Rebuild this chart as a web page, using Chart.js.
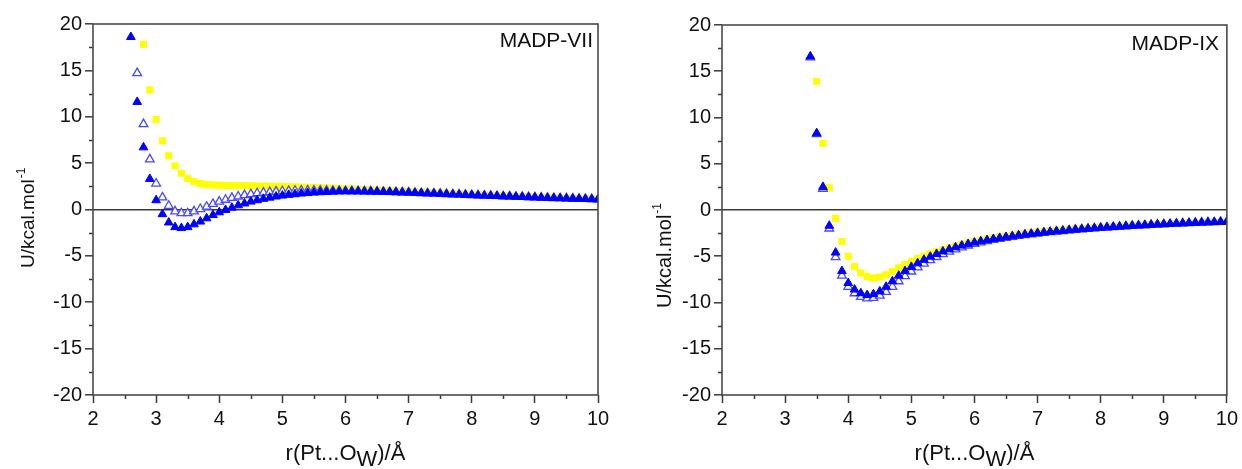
<!DOCTYPE html>
<html><head><meta charset="utf-8">
<script src="https://cdn.jsdelivr.net/npm/chart.js@4.4.1/dist/chart.umd.min.js"></script>
<style>
html,body{margin:0;padding:0;background:#fff;}
#wrap{position:relative;width:1242px;height:469px;overflow:hidden;background:#fff;}
.pane{position:absolute;top:0;width:621px;height:469px;}
</style></head><body>
<div id="wrap">
<div class="pane" style="left:0"><canvas id="c1" width="621" height="469"></canvas></div>
<div class="pane" style="left:621px"><canvas id="c2" width="621" height="469"></canvas></div>
</div>
<script>
// ---------- DATA ----------
const panelLabels = ["MADP-VII", "MADP-IX"];
const xTicks = [2, 3, 4, 5, 6, 7, 8, 9, 10];
const yTicks = [-20, -15, -10, -5, 0, 5, 10, 15, 20];

// MADP-VII : r (Å)
const rVII = [2.6,2.7,2.8,2.9,3.0,3.1,3.2,3.3,3.4,3.5,
  3.6,3.7,3.8,3.9,4.0,4.1,4.2,4.3,4.4,4.5,
  4.6,4.7,4.8,4.9,5.0,5.1,5.2,5.3,5.4,5.5,
  5.6,5.7,5.8,5.9,6.0,6.1,6.2,6.3,6.4,6.5,
  6.6,6.7,6.8,6.9,7.0,7.1,7.2,7.3,7.4,7.5,
  7.6,7.7,7.8,7.9,8.0,8.1,8.2,8.3,8.4,8.5,
  8.6,8.7,8.8,8.9,9.0,9.1,9.2,9.3,9.4,9.5,
  9.6,9.7,9.8,9.9,10.0];
const uVII_filled = [18.6,11.6,6.7,3.3,1.0,-0.5,-1.4,-1.9,-2.0,-1.9,
  -1.6,-1.3,-0.95,-0.6,-0.3,-0.05,0.2,0.45,0.65,0.85,
  1.0,1.15,1.28,1.4,1.5,1.58,1.65,1.72,1.77,1.82,
  1.86,1.89,1.92,1.94,1.95,1.95,1.95,1.94,1.93,1.92,
  1.9,1.88,1.86,1.84,1.82,1.79,1.77,1.74,1.72,1.69,
  1.66,1.63,1.61,1.58,1.55,1.52,1.5,1.47,1.45,1.42,
  1.4,1.37,1.35,1.32,1.3,1.28,1.25,1.23,1.21,1.19,
  1.17,1.15,1.13,1.11,1.09];
const uVII_open = [null,14.7,9.2,5.4,2.8,1.3,0.4,-0.2,-0.4,-0.4,
  -0.2,0.05,0.3,0.6,0.85,1.05,1.25,1.4,1.55,1.65,
  1.75,1.82,1.88,1.93,1.97,2.0,2.02,2.03,2.04,2.04,
  2.04,2.03,2.02,2.01,2.0,1.99,1.98,1.96,1.95,1.93,
  1.91,1.89,1.87,1.85,1.83,1.8,1.78,1.75,1.73,1.7,
  1.67,1.64,1.62,1.59,1.56,1.53,1.51,1.48,1.46,1.43,
  1.41,1.38,1.36,1.33,1.31,1.29,1.26,1.24,1.22,1.2,
  1.18,1.16,1.14,1.12,1.1];
const uVII_yellow = [null,null,17.8,12.9,9.7,7.4,5.8,4.7,3.9,3.35,
  3.0,2.8,2.7,2.65,2.62,2.6,2.59,2.58,2.57,2.56,
  2.55,2.54,2.52,2.5,2.48,2.46,2.44,2.42,2.4,2.37,
  2.35,2.32,2.3,2.27,2.24,2.21,2.18,2.15,2.12,2.09,
  2.06,2.03,2.0,1.97,1.94,1.91,1.88,1.85,1.82,1.79,
  1.76,1.73,1.7,1.67,1.64,1.61,1.58,1.55,1.52,1.5,
  1.47,1.44,1.42,1.39,1.37,1.34,1.32,1.3,1.27,1.25,
  1.23,1.21,1.19,1.17,1.15];

// MADP-IX : r (Å)
const rIX = [3.4,3.5,3.6,3.7,3.8,3.9,4.0,4.1,4.2,4.3,
  4.4,4.5,4.6,4.7,4.8,4.9,5.0,5.1,5.2,5.3,
  5.4,5.5,5.6,5.7,5.8,5.9,6.0,6.1,6.2,6.3,
  6.4,6.5,6.6,6.7,6.8,6.9,7.0,7.1,7.2,7.3,
  7.4,7.5,7.6,7.7,7.8,7.9,8.0,8.1,8.2,8.3,
  8.4,8.5,8.6,8.7,8.8,8.9,9.0,9.1,9.2,9.3,
  9.4,9.5,9.6,9.7,9.8,9.9,10.0];
const uIX_filled = [16.6,8.3,2.5,-1.7,-4.6,-6.6,-7.9,-8.6,-9.0,-9.2,
  -9.1,-8.8,-8.3,-7.7,-7.1,-6.6,-6.15,-5.75,-5.38,-5.05,
  -4.75,-4.48,-4.25,-4.03,-3.84,-3.67,-3.52,-3.38,-3.25,-3.13,
  -3.02,-2.92,-2.83,-2.74,-2.65,-2.57,-2.5,-2.43,-2.36,-2.3,
  -2.24,-2.18,-2.12,-2.07,-2.02,-1.97,-1.92,-1.87,-1.83,-1.79,
  -1.75,-1.71,-1.67,-1.63,-1.6,-1.56,-1.53,-1.5,-1.47,-1.44,
  -1.41,-1.38,-1.36,-1.33,-1.31,-1.28,-1.26];
const uIX_open = [16.5,8.2,2.3,-2.0,-5.1,-7.1,-8.3,-9.0,-9.4,-9.55,
  -9.5,-9.25,-8.85,-8.3,-7.7,-7.15,-6.65,-6.2,-5.8,-5.42,
  -5.08,-4.78,-4.5,-4.25,-4.03,-3.84,-3.67,-3.51,-3.37,-3.24,
  -3.11,-3.0,-2.9,-2.8,-2.71,-2.62,-2.54,-2.47,-2.4,-2.33,
  -2.27,-2.21,-2.15,-2.09,-2.04,-1.99,-1.94,-1.89,-1.85,-1.81,
  -1.76,-1.72,-1.68,-1.65,-1.61,-1.58,-1.54,-1.51,-1.48,-1.45,
  -1.42,-1.39,-1.37,-1.34,-1.32,-1.29,-1.27];
const uIX_yellow = [null,13.9,7.2,2.4,-0.9,-3.4,-5.0,-6.1,-6.8,-7.2,
  -7.35,-7.25,-7.0,-6.65,-6.25,-5.9,-5.55,-5.25,-4.98,-4.72,
  -4.49,-4.27,-4.07,-3.88,-3.7,-3.54,-3.39,-3.25,-3.12,-3.0,
  -2.89,-2.79,-2.7,-2.61,-2.53,-2.45,-2.38,-2.31,-2.25,-2.19,
  -2.13,-2.08,-2.03,-1.98,-1.94,-1.9,-1.86,-1.82,-1.78,-1.75,
  -1.71,-1.68,-1.65,-1.62,-1.59,-1.56,-1.53,-1.5,-1.48,-1.45,
  -1.43,-1.4,-1.38,-1.36,-1.33,-1.31,-1.29];

// ---------- RENDER ----------
const FONT = "'Liberation Sans', Arial, Helvetica, sans-serif";
const AX = '#3a3a3a';

function pts(r, u) {
  const out = [];
  for (let i = 0; i < r.length; i++) if (u[i] !== null) out.push({x: r[i], y: u[i]});
  return out;
}
const isMajor = (v, step) => Math.abs(v / step - Math.round(v / step)) < 1e-6;

function decorPlugin(cfg) {
  return {
    id: 'decor',
    afterDraw(chart) {
      const ctx = chart.ctx, a = chart.chartArea;
      const xs = chart.scales.x, ys = chart.scales.y;
      ctx.save();
      // minor ticks
      ctx.strokeStyle = AX; ctx.lineWidth = 1.5;
      ctx.beginPath();
      ys.ticks.forEach(t => {
        if (!isMajor(t.value, 5)) {
          const p = Math.round(ys.getPixelForValue(t.value)) + 0.5;
          ctx.moveTo(a.left, p); ctx.lineTo(a.left - 4, p);
        }
      });
      xs.ticks.forEach(t => {
        if (!isMajor(t.value, 1)) {
          const p = Math.round(xs.getPixelForValue(t.value)) + 0.5;
          ctx.moveTo(p, a.bottom); ctx.lineTo(p, a.bottom + 4);
        }
      });
      ctx.stroke();
      // frame
      ctx.strokeStyle = '#4a4a4a'; ctx.lineWidth = 1.6;
      ctx.strokeRect(a.left, a.top, a.right - a.left, a.bottom - a.top);
      ctx.fillStyle = '#111';
      // panel label
      ctx.font = cfg.labelSize + 'px ' + FONT;
      ctx.textAlign = 'right'; ctx.textBaseline = 'alphabetic';
      ctx.fillText(cfg.label, cfg.labelX, cfg.labelY);
      // x title with subscript
      ctx.textAlign = 'left';
      ctx.font = cfg.xtSize + 'px ' + FONT;
      const p1 = 'r(Pt...O', p2 = 'W', p3 = ')/Å';
      const w1 = ctx.measureText(p1).width, w2 = ctx.measureText(p2).width, w3 = ctx.measureText(p3).width;
      const x0 = (a.left + a.right) / 2 - (w1 + w2 + w3) / 2;
      ctx.fillText(p1, x0, cfg.xtY);
      ctx.fillText(p2, x0 + w1, cfg.xtY + 6);
      ctx.fillText(p3, x0 + w1 + w2, cfg.xtY);
      // y title with superscript
      ctx.translate(cfg.ytX, cfg.ytY);
      ctx.rotate(-Math.PI / 2);
      ctx.font = cfg.ytSize + 'px ' + FONT;
      const m = 'U/kcal.mol';
      const wm = ctx.measureText(m).width;
      ctx.fillText(m, 0, 0);
      ctx.font = Math.round(cfg.ytSize * 0.62) + 'px ' + FONT;
      ctx.fillText('-1', wm + 1, -cfg.ytSize * 0.5);
      ctx.restore();
    }
  };
}

function makeChart(id, r, filled, open, yellow, cfg) {
  const tickFont = {family: FONT, size: 20};
  return new Chart(document.getElementById(id), {
    type: 'scatter',
    data: {
      datasets: [
        {label: 'filled', data: pts(r, filled), pointStyle: 'triangle', pointRadius: 5,
         backgroundColor: '#0000ff', borderColor: '#0000ff', borderWidth: 1},
        {label: 'open', data: pts(r, open), pointStyle: 'triangle', pointRadius: 5,
         backgroundColor: '#ffffff', borderColor: '#4848ff', borderWidth: 1.3},
        {label: 'yellow', data: pts(r, yellow), pointStyle: 'rect', pointRadius: 5,
         backgroundColor: '#ffff00', borderColor: '#ffff00', borderWidth: 0}
      ]
    },
    options: {
      responsive: false, animation: false,
      events: [],
      layout: {padding: {left: 0, top: cfg.top, right: cfg.right, bottom: 0}},
      plugins: {legend: {display: false}, tooltip: {enabled: false}, title: {display: false}},
      scales: {
        x: {
          type: 'linear', min: xTicks[0], max: xTicks[xTicks.length - 1],
          afterFit: s => { s.height = 469 - cfg.bottom; },
          border: {display: false},
          grid: {drawOnChartArea: false, drawTicks: true, tickLength: 8, tickWidth: 1.5,
                 tickColor: c => (c.tick && isMajor(c.tick.value, 1)) ? AX : 'rgba(0,0,0,0)'},
          ticks: {stepSize: 0.5, autoSkip: false, maxRotation: 0, padding: 4, color: '#111', font: tickFont,
                  callback: v => xTicks.includes(v) ? String(v) : ''}
        },
        y: {
          type: 'linear', min: yTicks[0], max: yTicks[yTicks.length - 1],
          afterFit: s => { s.width = cfg.left; },
          border: {display: false},
          grid: {drawOnChartArea: true, drawTicks: true, tickLength: 8, tickWidth: 1.5, lineWidth: 1.6,
                 color: c => (c.tick && c.tick.value === 0) ? '#3a3a3a' : 'rgba(0,0,0,0)',
                 tickColor: c => (c.tick && isMajor(c.tick.value, 5)) ? AX : 'rgba(0,0,0,0)'},
          ticks: {stepSize: 2.5, autoSkip: false, padding: 3, color: '#111', font: tickFont,
                  callback: v => yTicks.includes(v) ? String(v) : ''}
        }
      }
    },
    plugins: [decorPlugin(cfg)]
  });
}

makeChart('c1', rVII, uVII_filled, uVII_open, uVII_yellow, {
  left: 93, right: 23, top: 24, bottom: 395,
  label: panelLabels[0], labelSize: 21, labelX: 593, labelY: 47,
  xtSize: 22, xtY: 460, ytSize: 19, ytX: 34, ytY: 268
});
makeChart('c2', rIX, uIX_filled, uIX_open, uIX_yellow, {
  left: 101, right: 14, top: 25, bottom: 395,
  label: panelLabels[1], labelSize: 21, labelX: 598, labelY: 50,
  xtSize: 22, xtY: 460, ytSize: 20, ytX: 50, ytY: 308
});
</script>
</body></html>
